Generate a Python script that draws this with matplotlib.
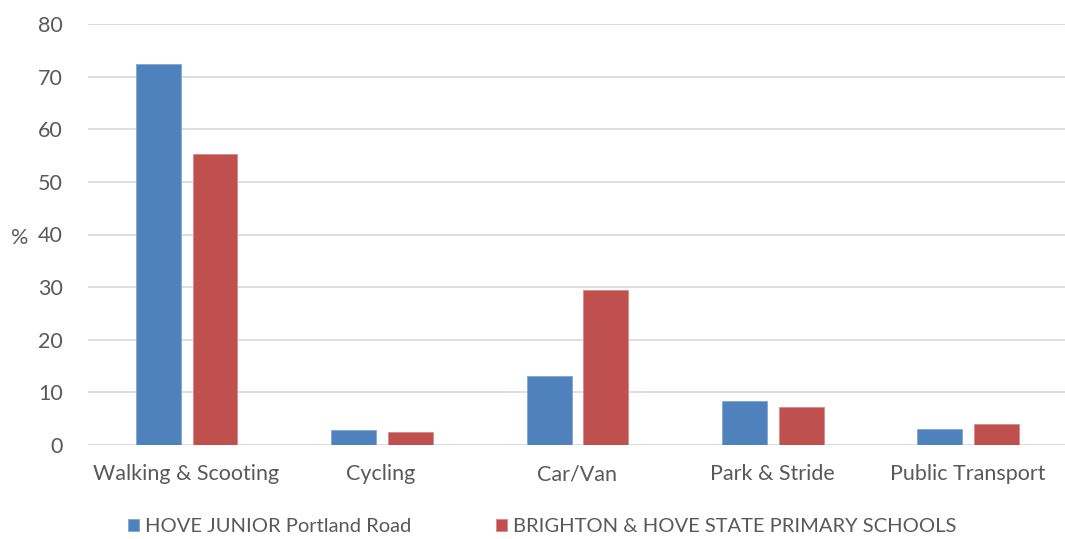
import numpy as np
import matplotlib.pyplot as plt

plt.rcParams['font.family'] = ['Lato', 'DejaVu Sans']

categories = ['Walking & Scooting', 'Cycling', 'Car/Van', 'Park & Stride', 'Public Transport']
hove_junior = [72.4, 2.8, 13.1, 8.4, 3.0]
brighton_hove = [55.3, 2.4, 29.4, 7.3, 3.9]
series_names = ['HOVE JUNIOR Portland Road', 'BRIGHTON & HOVE STATE PRIMARY SCHOOLS']

blue = '#4f81bd'
red = '#c0504d'
grey = '#595959'

fig = plt.figure(figsize=(10.65, 5.39), dpi=100)
ax = fig.add_axes([88/1065, 1-445/539, (1065-88)/1065, (445-24)/539])

x = np.arange(len(categories))
w = 0.23
ax.bar(x - 0.14, hove_junior, w, color=blue, edgecolor='#7fa6d6', linewidth=0.6,
       label=series_names[0], zorder=3)
ax.bar(x + 0.15, brighton_hove, w, color=red, edgecolor='#d88a88', linewidth=0.6,
       label=series_names[1], zorder=3)

ax.set_xlim(-0.5, len(categories) - 0.5)
ax.set_ylim(0, 80)
ax.set_yticks(range(0, 81, 10))
ax.set_xticks(x)
ax.set_xticklabels(categories)
ax.grid(axis='y', color='#d9d9d9', linewidth=1.2, zorder=0)
ax.set_axisbelow(True)
for s in ax.spines.values():
    s.set_visible(False)
ax.tick_params(length=0, labelsize=15.5, colors=grey)
ax.tick_params(axis='x', pad=14)
ax.tick_params(axis='y', pad=18)

# % label sits to the left of the tick labels
fig.text(20/1065, 1-238/539, '%', fontsize=15.5, color=grey, ha='center', va='center')

fig.legend(loc='center', bbox_to_anchor=(542/1065, 1-527/539), ncol=2, frameon=False,
           fontsize=14.5, labelcolor=grey, handlelength=0.55, handleheight=0.55,
           handletextpad=0.3, columnspacing=4.2, borderpad=0)

fig.savefig('out.png', dpi=100)
